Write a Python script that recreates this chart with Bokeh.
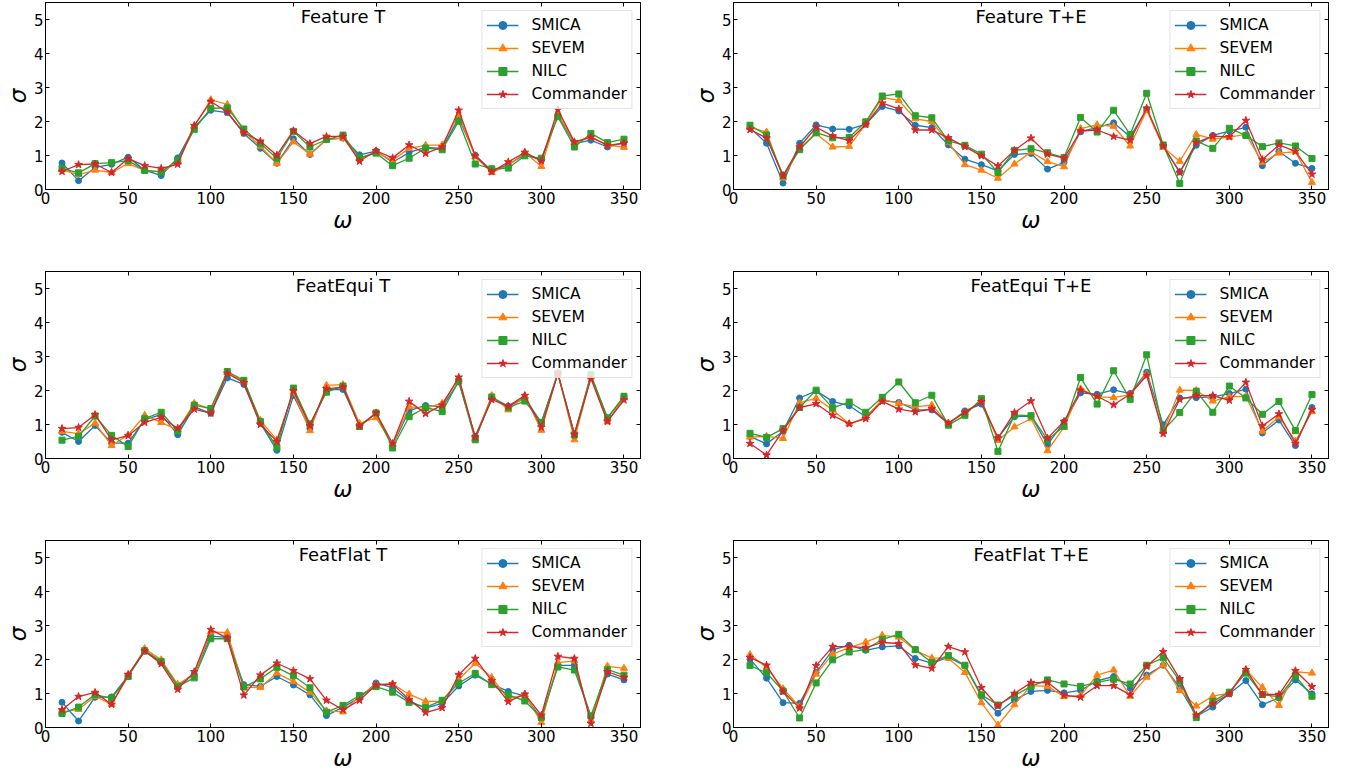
from bokeh.plotting import figure
from bokeh.layouts import column, row
from bokeh.models import Range1d, FixedTicker, LinearAxis, Label
from bokeh.embed import file_html
from bokeh.resources import INLINE

omega = list(range(10, 360, 10))
series_names = ["SMICA", "SEVEM", "NILC", "Commander"]
x_ticks = [0, 50, 100, 150, 200, 250, 300, 350]
y_ticks = [0, 1, 2, 3, 4, 5]

# Feature T
ft_smica = [0.78,0.26,0.65,0.74,0.95,0.57,0.41,0.93,1.83,2.33,2.26,1.65,1.21,0.77,1.49,1.03,1.47,1.51,
            1.02,1.13,0.80,1.09,1.24,1.21,2.10,1.01,0.55,0.73,1.03,0.86,2.18,1.35,1.45,1.25,1.38]
ft_sevem = [0.58,0.44,0.57,0.50,0.76,0.56,0.52,0.80,1.86,2.64,2.50,1.72,1.27,0.77,1.40,1.04,1.48,1.51,
            0.90,1.10,0.85,1.21,1.30,1.31,2.20,0.96,0.50,0.70,1.09,0.68,2.23,1.38,1.54,1.31,1.24]
ft_nilc = [0.62,0.49,0.76,0.79,0.85,0.56,0.52,0.86,1.77,2.39,2.40,1.78,1.35,0.92,1.71,1.25,1.47,1.60,
           0.94,1.07,0.70,0.92,1.22,1.17,2.01,0.75,0.61,0.63,0.99,0.92,2.14,1.25,1.65,1.38,1.48]
ft_commander = [0.53,0.73,0.75,0.50,0.91,0.70,0.62,0.74,1.88,2.59,2.28,1.67,1.42,1.01,1.73,1.35,1.56,1.56,
                0.83,1.14,0.93,1.31,1.06,1.25,2.33,0.99,0.52,0.81,1.09,0.84,2.35,1.40,1.54,1.30,1.36]

# Feature T+E
fte_smica = [1.82,1.36,0.19,1.36,1.90,1.78,1.77,1.92,2.44,2.31,1.89,1.82,1.31,0.89,0.73,0.55,1.03,1.06,
             0.60,0.80,1.70,1.82,1.96,1.55,2.36,1.28,0.52,1.30,1.59,1.72,1.83,0.70,1.12,0.77,0.62]
fte_sevem = [1.83,1.69,0.34,1.21,1.64,1.25,1.27,1.92,2.71,2.62,2.08,2.00,1.38,0.73,0.57,0.33,0.75,1.10,
             0.82,0.67,1.79,1.90,1.86,1.28,2.33,1.24,0.83,1.62,1.48,1.54,1.62,0.80,1.07,1.11,0.21]
fte_nilc = [1.89,1.60,0.41,1.17,1.67,1.52,1.53,1.99,2.75,2.81,2.17,2.11,1.43,1.30,1.04,0.50,1.15,1.20,
            1.08,0.94,2.12,1.69,2.33,1.62,2.83,1.31,0.18,1.43,1.21,1.80,1.59,1.26,1.37,1.28,0.91]
fte_commander = [1.76,1.51,0.41,1.25,1.83,1.57,1.44,1.91,2.54,2.37,1.75,1.75,1.52,1.26,0.99,0.69,1.15,1.51,
                 1.04,0.92,1.72,1.75,1.56,1.45,2.39,1.28,0.50,1.38,1.57,1.55,2.03,0.88,1.31,1.12,0.45]

# FeatEqui T
fet_smica = [0.77,0.50,0.97,0.45,0.45,1.14,1.29,0.70,1.52,1.33,2.37,2.18,1.04,0.24,1.85,0.88,2.03,2.03,
             0.97,1.33,0.38,1.41,1.56,1.52,2.25,0.65,1.80,1.54,1.77,1.06,2.50,0.73,2.42,1.20,1.82]
fet_sevem = [0.80,0.73,1.04,0.38,0.69,1.27,1.06,0.84,1.62,1.46,2.52,2.27,1.12,0.55,1.95,0.82,2.15,2.17,
             1.03,1.20,0.41,1.52,1.48,1.62,2.33,0.59,1.85,1.43,1.84,0.83,2.52,0.55,2.40,1.08,1.80]
fet_nilc = [0.54,0.65,1.25,0.68,0.35,1.17,1.36,0.81,1.57,1.47,2.56,2.30,1.09,0.33,2.07,1.02,1.95,2.13,
            0.94,1.34,0.31,1.23,1.50,1.38,2.28,0.55,1.81,1.50,1.69,1.06,2.50,0.69,2.47,1.19,1.83]
fet_commander = [0.88,0.91,1.29,0.55,0.67,1.06,1.21,0.89,1.45,1.33,2.50,2.23,1.00,0.50,1.99,0.96,2.05,2.10,
                 0.95,1.34,0.44,1.68,1.32,1.57,2.39,0.63,1.73,1.54,1.85,0.92,2.49,0.71,2.35,1.09,1.72]

# FeatEqui T+E
fete_smica = [0.65,0.43,0.80,1.78,1.99,1.68,1.55,1.23,1.70,1.65,1.43,1.43,1.02,1.40,1.60,0.61,1.23,1.25,
              0.41,1.07,1.93,1.89,2.02,1.91,2.54,0.99,1.78,1.79,1.81,1.91,2.04,0.75,1.13,0.38,1.50]
fete_sevem = [0.63,0.65,0.59,1.64,1.77,1.43,1.02,1.20,1.74,1.62,1.52,1.57,1.04,1.35,1.69,0.53,0.93,1.17,
              0.23,0.92,2.05,1.82,1.79,1.88,2.48,0.80,2.01,2.00,1.69,1.82,1.83,0.80,1.23,0.51,1.38]
fete_nilc = [0.74,0.62,0.88,1.50,2.01,1.49,1.66,1.36,1.80,2.25,1.64,1.86,0.98,1.27,1.76,0.21,1.28,1.26,
             0.55,0.95,2.38,1.60,2.58,1.74,3.05,0.82,1.35,1.98,1.36,2.13,1.78,1.30,1.68,0.82,1.88]
fete_commander = [0.44,0.10,0.83,1.50,1.61,1.27,1.02,1.17,1.68,1.45,1.37,1.46,1.04,1.36,1.67,0.60,1.35,1.69,
                  0.60,1.09,2.01,1.83,1.58,1.89,2.44,0.73,1.74,1.85,1.85,1.71,2.24,0.96,1.31,0.44,1.43]

# FeatFlat T
fft_smica = [0.74,0.19,0.89,0.90,1.52,2.24,1.93,1.23,1.57,2.69,2.65,1.26,1.21,1.50,1.25,0.96,0.35,0.60,
             0.87,1.31,1.17,0.78,0.57,0.71,1.22,1.54,1.28,1.06,0.92,0.26,1.83,1.83,0.31,1.57,1.40]
fft_sevem = [0.46,0.53,0.92,0.68,1.50,2.32,1.99,1.27,1.57,2.81,2.79,1.18,1.18,1.60,1.35,1.04,0.49,0.46,
             0.92,1.26,1.28,0.98,0.77,0.77,1.41,1.89,1.47,0.84,0.97,0.15,1.91,1.96,0.20,1.80,1.74]
fft_nilc = [0.41,0.60,0.97,0.86,1.50,2.26,1.94,1.21,1.46,2.61,2.61,1.19,1.43,1.77,1.52,1.17,0.45,0.65,
            0.94,1.20,1.04,0.74,0.59,0.80,1.31,1.59,1.26,0.96,0.78,0.30,1.78,1.69,0.34,1.70,1.54]
fft_commander = [0.52,0.91,1.03,0.68,1.56,2.25,1.87,1.12,1.64,2.88,2.63,0.95,1.54,1.89,1.67,1.43,0.80,0.52,
                 0.80,1.25,1.28,0.82,0.44,0.58,1.55,2.03,1.37,0.76,0.98,0.36,2.09,2.03,0.12,1.64,1.47]

# FeatFlat T+E
ffte_smica = [2.01,1.45,0.73,0.71,1.62,2.28,2.42,2.27,2.37,2.40,2.03,1.89,2.06,1.82,0.92,0.42,0.81,1.06,
              1.09,1.02,1.09,1.37,1.50,1.16,1.54,1.83,1.17,0.33,0.60,0.99,1.38,0.67,0.87,1.40,0.99]
ffte_sevem = [2.14,1.77,1.14,0.61,1.57,2.16,2.35,2.51,2.71,2.66,2.27,2.04,2.04,1.62,0.73,0.07,0.67,1.23,
              1.21,0.91,0.94,1.54,1.69,0.92,1.48,1.84,1.09,0.63,0.92,1.01,1.70,1.18,0.65,1.64,1.60]
ffte_nilc = [1.82,1.61,1.07,0.28,1.31,1.99,2.22,2.30,2.59,2.74,2.29,1.91,2.12,1.83,0.96,0.66,0.94,1.21,
             1.40,1.28,1.21,1.33,1.42,1.28,1.83,2.05,1.37,0.29,0.77,1.04,1.60,0.97,0.90,1.52,0.92]
ffte_commander = [2.06,1.83,1.06,0.57,1.82,2.38,2.38,2.35,2.50,2.47,1.84,1.74,2.38,2.22,1.17,0.63,1.00,1.32,
                  1.33,0.95,0.89,1.23,1.23,0.96,1.80,2.23,1.43,0.36,0.70,0.99,1.70,0.97,0.97,1.67,1.20]

COLORS = ["#1f77b4", "#ff7f0e", "#2ca02c", "#d62728"]
MARKERS = ["circle", "triangle", "square", "star"]
MSIZES = [6, 7, 6, 8]
FONT = "DejaVu Sans"
FW, FH = 595, 187


def style_axis(ax, ticks, show_labels=True):
    ax.ticker = FixedTicker(ticks=ticks)
    ax.major_tick_in = 4
    ax.major_tick_out = 0
    ax.minor_tick_in = 0
    ax.minor_tick_out = 0
    ax.axis_line_color = "black"
    ax.axis_line_width = 1
    ax.major_tick_line_color = "black"
    ax.major_label_text_font = FONT
    if show_labels:
        ax.major_label_text_color = "black"
        ax.major_label_text_font_size = "15px"
        ax.major_label_standoff = 2
        ax.axis_label_text_font = FONT
        ax.axis_label_text_font_size = "23px"
        ax.axis_label_text_font_style = "italic"
        ax.axis_label_text_color = "black"
        ax.axis_label_standoff = 0
    else:
        ax.major_label_text_color = None
        ax.major_label_text_font_size = "1px"
        ax.major_label_standoff = 0


def make_panel(title, series, left, right, bottom):
    p = figure(frame_width=FW, frame_height=FH,
               x_range=Range1d(0, 360), y_range=Range1d(0, 5.5),
               output_backend="svg", toolbar_location=None,
               min_border_left=left, min_border_right=right,
               min_border_top=2, min_border_bottom=bottom)
    p.xgrid.visible = False
    p.ygrid.visible = False
    p.outline_line_color = "black"
    p.background_fill_color = "white"
    p.border_fill_color = "white"

    style_axis(p.xaxis[0], x_ticks)
    style_axis(p.yaxis[0], y_ticks)
    p.xaxis[0].axis_label = "ω"
    p.yaxis[0].axis_label = "σ"

    top_ax = LinearAxis()
    style_axis(top_ax, x_ticks, show_labels=False)
    p.add_layout(top_ax, "above")
    right_ax = LinearAxis()
    style_axis(right_ax, y_ticks, show_labels=False)
    p.add_layout(right_ax, "right")

    for name, vals, col, mk, ms in zip(series_names, series, COLORS, MARKERS, MSIZES):
        p.line(omega, vals, line_color=col, line_width=1.3, legend_label=name)
        p.scatter(omega, vals, marker=mk, size=ms, fill_color=col, line_color=col,
                  legend_label=name)

    lg = p.legend[0]
    lg.location = "top_right"
    lg.margin = 8
    lg.padding = 4
    lg.spacing = 3
    lg.glyph_width = 32
    lg.glyph_height = 20
    lg.label_height = 20
    lg.label_standoff = 13
    lg.label_text_font = FONT
    lg.label_text_font_size = "15.5px"
    lg.label_text_color = "black"
    lg.border_line_color = "#cccccc"
    lg.border_line_width = 1
    lg.background_fill_alpha = 0.8

    p.add_layout(Label(x=180, y=5.5, y_offset=-3, text=title, text_align="center",
                       text_baseline="top", text_font=FONT, text_font_size="18px",
                       text_color="black"))
    return p


p1 = make_panel("Feature T", [ft_smica, ft_sevem, ft_nilc, ft_commander], 45, 48, 80)
p2 = make_panel("Feature T+E", [fte_smica, fte_sevem, fte_nilc, fte_commander], 45, 18, 80)
p3 = make_panel("FeatEqui T", [fet_smica, fet_sevem, fet_nilc, fet_commander], 45, 48, 80)
p4 = make_panel("FeatEqui T+E", [fete_smica, fete_sevem, fete_nilc, fete_commander], 45, 18, 80)
p5 = make_panel("FeatFlat T", [fft_smica, fft_sevem, fft_nilc, fft_commander], 45, 48, 48)
p6 = make_panel("FeatFlat T+E", [ffte_smica, ffte_sevem, ffte_nilc, ffte_commander], 45, 18, 48)

layout = column(row(p1, p2), row(p3, p4), row(p5, p6))
open("out.html", "w").write(file_html(layout, INLINE))
